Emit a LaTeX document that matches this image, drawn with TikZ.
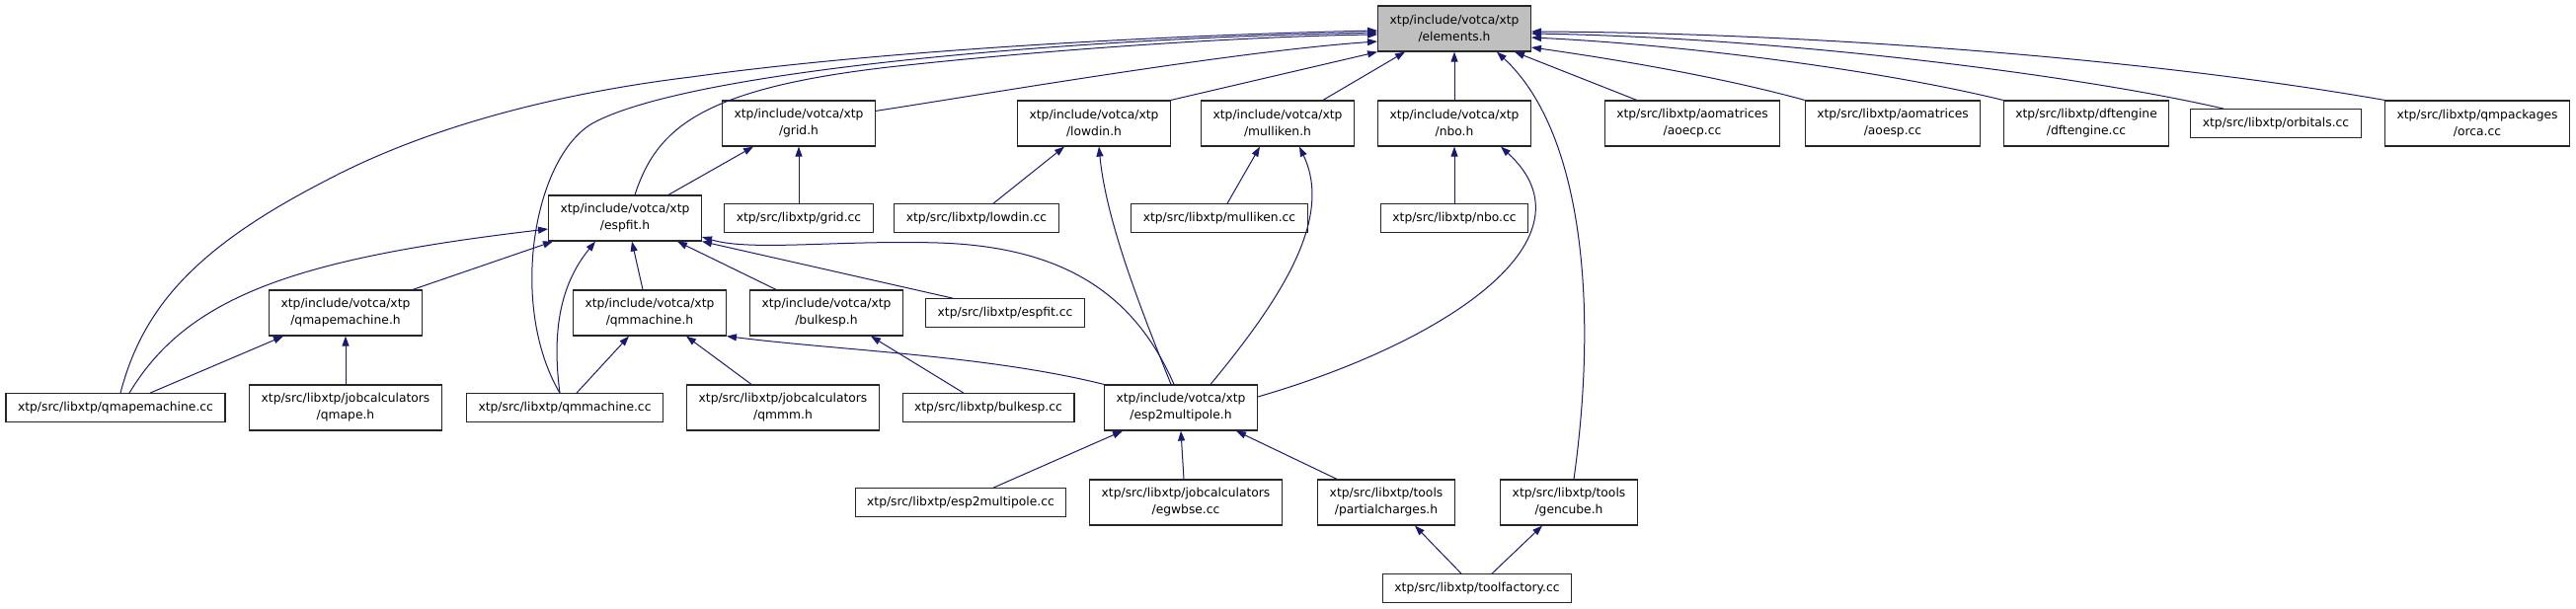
\documentclass[tikz,border=0pt]{standalone}
\usepackage{fontspec}
\setmainfont{DejaVu Sans}
\usetikzlibrary{arrows.meta}

\definecolor{edgeblue}{HTML}{191970}
\definecolor{boxgrey}{HTML}{BFBFBF}

\begin{document}
\begin{tikzpicture}[
    x=1pt, y=-1pt,
    box/.style={draw=black!85, line width=1.2pt, fill=white, align=center, font=\fontsize{12.3}{17}\selectfont,
        inner xsep=12pt, inner ysep=2pt, minimum height=28.5pt},
    hbox/.style={box, minimum height=46pt},
    arrow/.style={-{Triangle[length=10pt, width=7pt]}, draw=edgeblue, line width=1pt}
]
    \useasboundingbox (0,0) rectangle (2609,616);

    \node[hbox, fill=boxgrey] (elements) at (1473,29) {xtp/include/votca/xtp\\/elements.h};

    \node[hbox] (grid) at (809,125) {xtp/include/votca/xtp\\/grid.h};
    \node[hbox] (lowdin) at (1108,125) {xtp/include/votca/xtp\\/lowdin.h};
    \node[hbox] (mulliken) at (1294,125) {xtp/include/votca/xtp\\/mulliken.h};
    \node[hbox] (nbo) at (1473,125) {xtp/include/votca/xtp\\/nbo.h};
    \node[hbox] (aoecp) at (1714,125) {xtp/src/libxtp/aomatrices\\/aoecp.cc};
    \node[hbox] (aoesp) at (1917,125) {xtp/src/libxtp/aomatrices\\/aoesp.cc};
    \node[hbox] (dftengine) at (2113,125) {xtp/src/libxtp/dftengine\\/dftengine.cc};
    \node[box] (orbitals) at (2305,125) {xtp/src/libxtp/orbitals.cc};
    \node[hbox] (orca) at (2509,125) {xtp/src/libxtp/qmpackages\\/orca.cc};

    \node[hbox] (espfit) at (633,221) {xtp/include/votca/xtp\\/espfit.h};
    \node[box] (gridcc) at (809,221) {xtp/src/libxtp/grid.cc};
    \node[box] (lowdincc) at (989,221) {xtp/src/libxtp/lowdin.cc};
    \node[box] (mullikencc) at (1235,221) {xtp/src/libxtp/mulliken.cc};
    \node[box] (nbocc) at (1473,221) {xtp/src/libxtp/nbo.cc};

    \node[hbox] (qmapemh) at (350,317) {xtp/include/votca/xtp\\/qmapemachine.h};
    \node[hbox] (qmmh) at (658,317) {xtp/include/votca/xtp\\/qmmachine.h};
    \node[hbox] (bulkesph) at (837,317) {xtp/include/votca/xtp\\/bulkesp.h};
    \node[box] (espfitcc) at (1018,317) {xtp/src/libxtp/espfit.cc};

    \node[box] (qmapecc) at (117,413) {xtp/src/libxtp/qmapemachine.cc};
    \node[hbox] (qmapeh) at (350,413) {xtp/src/libxtp/jobcalculators\\/qmape.h};
    \node[box] (qmmcc) at (572,413) {xtp/src/libxtp/qmmachine.cc};
    \node[hbox] (qmmmh) at (793,413) {xtp/src/libxtp/jobcalculators\\/qmmm.h};
    \node[box] (bulkespcc) at (1001,413) {xtp/src/libxtp/bulkesp.cc};
    \node[hbox] (esp2mh) at (1196,413) {xtp/include/votca/xtp\\/esp2multipole.h};

    \node[box] (esp2mcc) at (973,509) {xtp/src/libxtp/esp2multipole.cc};
    \node[hbox] (egwbse) at (1201,509) {xtp/src/libxtp/jobcalculators\\/egwbse.cc};
    \node[hbox] (partial) at (1404,509) {xtp/src/libxtp/tools\\/partialcharges.h};
    \node[hbox] (gencube) at (1589,509) {xtp/src/libxtp/tools\\/gencube.h};

    \node[box] (toolfactory) at (1496,596) {xtp/src/libxtp/toolfactory.cc};

    \draw[arrow] ([xshift=5pt]qmapecc.north) .. controls (145,310) and (200,250) .. (330,183)
        .. controls (430,130) and (560,95) .. (700,78) .. controls (900,50) and (1200,35) .. ([yshift=-2pt]elements.west);
    \draw[arrow] ([xshift=-5pt]qmmcc.north) .. controls (515,310) and (540,160) .. (600,125)
        .. controls (700,70) and (1100,38) .. ([yshift=-4pt]elements.west);
    \draw[arrow] ([xshift=10pt]espfit.north) .. controls (665,130) and (710,90) .. (900,68)
        .. controls (1100,46) and (1300,36) .. ([yshift=-6pt]elements.west);
    \draw[arrow] ([yshift=-11pt]grid.north east) .. controls (1000,95) and (1250,52) .. ([yshift=-13pt]elements.west);
    \draw[arrow] (lowdin.north east) -- (elements.south west);
    \draw[arrow] ([xshift=-32pt]mulliken.north east) -- ([xshift=28pt]elements.south west);
    \draw[arrow] (nbo) -- (elements);
    \draw[arrow] ([xshift=5pt]gencube.north) .. controls (1620,300) and (1600,130) .. ([xshift=-35pt]elements.south east);
    \draw[arrow] ([xshift=33pt]aoecp.north west) -- ([xshift=-17pt]elements.south east);
    \draw[arrow] (aoesp.north west) .. controls (1750,80) and (1650,62) .. ([yshift=-19pt]elements.east);
    \draw[arrow] (dftengine.north west) .. controls (1900,70) and (1700,45) .. ([yshift=-9pt]elements.east);
    \draw[arrow] ([xshift=34pt]orbitals.north west) .. controls (2100,75) and (1800,38) .. ([yshift=-5pt]elements.east);
    \draw[arrow] (orca.north west) .. controls (2150,55) and (1800,33) .. ([yshift=-3pt]elements.east);

    \draw[arrow] ([xshift=44pt]espfit.north) -- ([xshift=-46pt]grid.south);
    \draw[arrow] (gridcc) -- (grid);
    \draw[arrow] ([xshift=14pt]qmapecc.north) .. controls (190,300) and (300,262) .. ([yshift=-11pt]espfit.west);
    \draw[arrow] ([xshift=68pt]qmapemh.north) -- ([xshift=-73pt]espfit.south);
    \draw[arrow] ([xshift=-5pt]qmmcc.north) .. controls (558,330) and (570,285) .. ([xshift=-30pt]espfit.south);
    \draw[arrow] ([xshift=-7pt]qmmh.north) -- ([xshift=7pt]espfit.south);
    \draw[arrow] ([xshift=-51pt]bulkesph.north) -- ([xshift=53pt]espfit.south);
    \draw[arrow] ([xshift=-53pt]espfitcc.north) -- (espfit.south east);
    \draw[arrow] ([xshift=-7pt]esp2mh.north) .. controls (1150,300) and (1080,250) .. (950,246)
        .. controls (850,243) and (760,255) .. ([yshift=-19pt]espfit.east);

    \draw[arrow] ([xshift=35pt]qmapecc.north) -- ([xshift=-63pt]qmapemh.south);
    \draw[arrow] (qmapeh) -- (qmapemh);
    \draw[arrow] ([xshift=12pt]qmmcc.north) -- ([xshift=-21pt]qmmh.south);
    \draw[arrow] ([xshift=-32pt]qmmmh.north) -- ([xshift=37pt]qmmh.south);
    \draw[arrow] (esp2mh.north west) .. controls (1000,360) and (850,355) .. (qmmh.south east);
    \draw[arrow] ([xshift=-25pt]bulkespcc.north) -- ([xshift=45pt]bulkesph.south);

    \draw[arrow] ([xshift=17pt]lowdincc.north) -- ([xshift=-30pt]lowdin.south);
    \draw[arrow] ([xshift=-10pt]esp2mh.north) .. controls (1150,300) and (1120,220) .. ([xshift=5pt]lowdin.south);
    \draw[arrow] ([xshift=8pt]mullikencc.north) -- ([xshift=-18pt]mulliken.south);
    \draw[arrow] ([xshift=30pt]esp2mh.north) .. controls (1300,300) and (1350,220) .. ([xshift=22pt]mulliken.south);
    \draw[arrow] (nbocc) -- (nbo);
    \draw[arrow] ([yshift=11pt]esp2mh.east) .. controls (1470,345) and (1620,240) .. ([xshift=47pt]nbo.south);

    \draw[arrow] ([xshift=33pt]esp2mcc.north) -- ([xshift=-59pt]esp2mh.south);
    \draw[arrow] ([xshift=-2pt]egwbse.north) -- (esp2mh.south);
    \draw[arrow] ([xshift=-50pt]partial.north) -- ([xshift=56pt]esp2mh.south);
    \draw[arrow] ([xshift=-16pt]toolfactory.north) -- ([xshift=29pt]partial.south);
    \draw[arrow] ([xshift=15pt]toolfactory.north) -- ([xshift=-27pt]gencube.south);
\end{tikzpicture}
\end{document}
